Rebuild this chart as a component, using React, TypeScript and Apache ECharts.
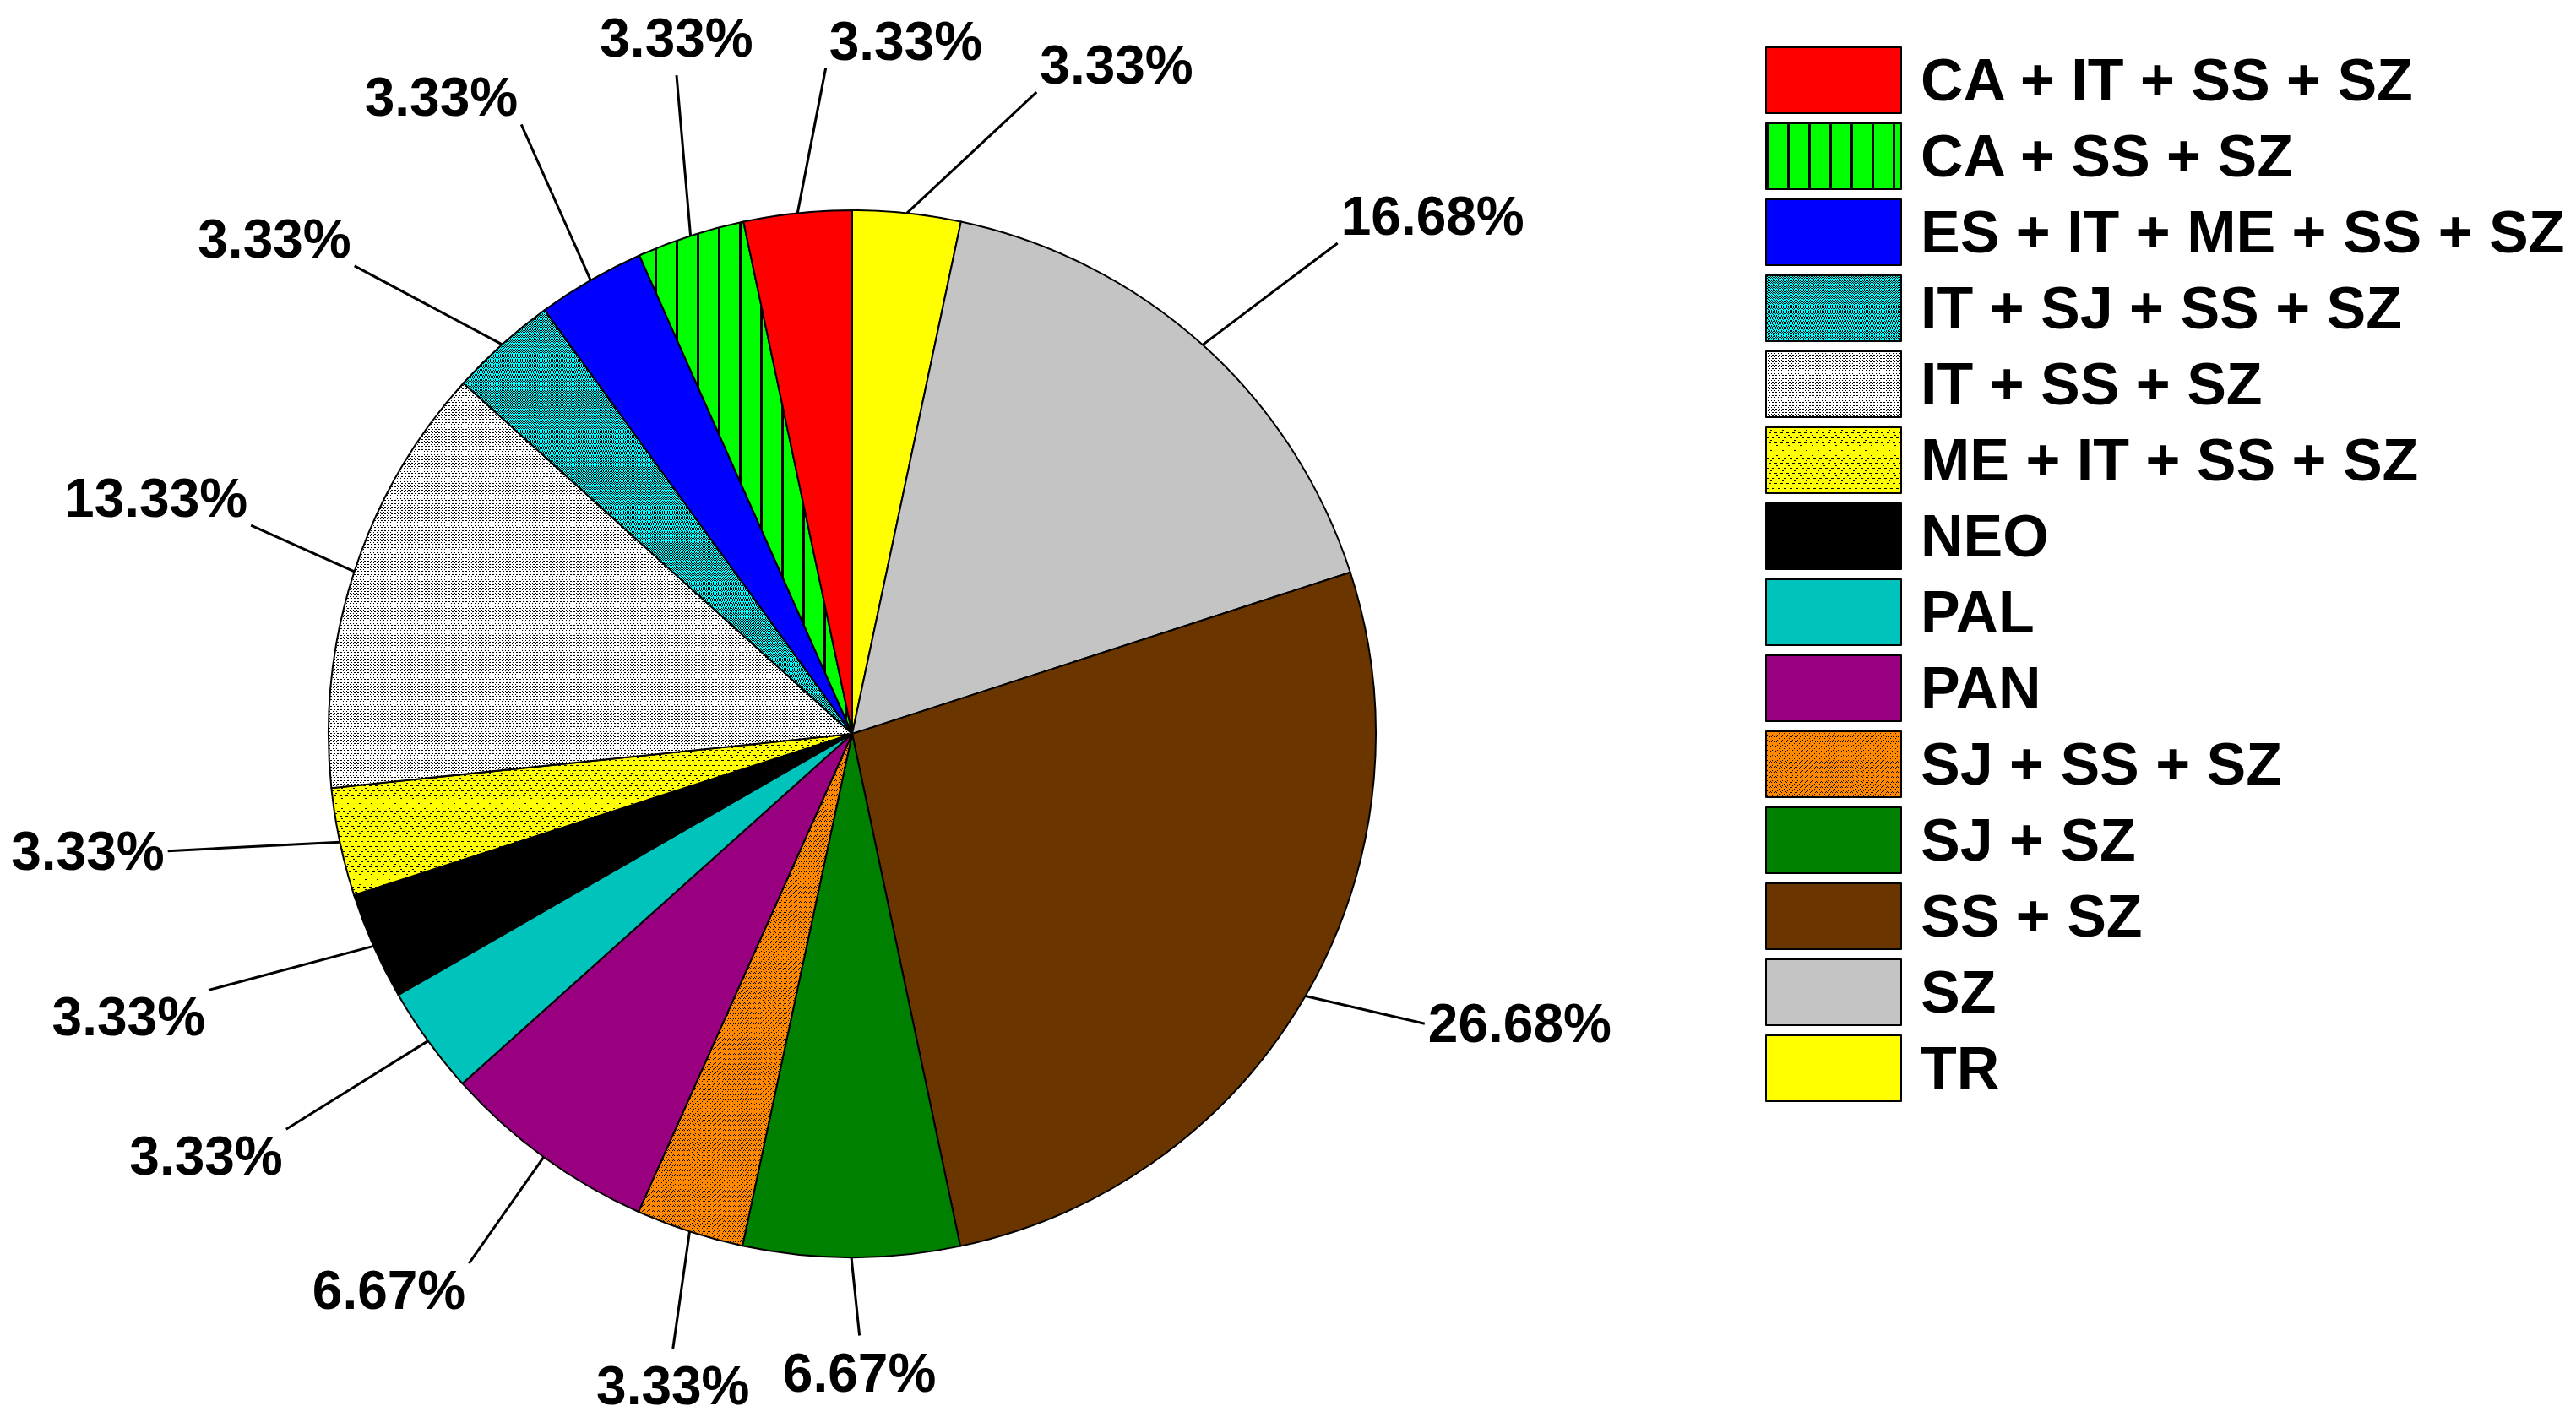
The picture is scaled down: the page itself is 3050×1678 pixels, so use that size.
import React, { useEffect, useRef } from "react";
import * as echarts from "echarts";

const categories = [
  "TR",
  "SZ",
  "SS + SZ",
  "SJ + SZ",
  "SJ + SS + SZ",
  "PAN",
  "PAL",
  "NEO",
  "ME + IT + SS + SZ",
  "IT + SS + SZ",
  "IT + SJ + SS + SZ",
  "ES + IT + ME + SS + SZ",
  "CA + SS + SZ",
  "CA + IT + SS + SZ",
];
const percents = [3.33, 16.68, 26.68, 6.67, 3.33, 6.67, 3.33, 3.33, 3.33, 13.33, 3.33, 3.33, 3.33, 3.33];
const legendOrder = [
  "CA + IT + SS + SZ",
  "CA + SS + SZ",
  "ES + IT + ME + SS + SZ",
  "IT + SJ + SS + SZ",
  "IT + SS + SZ",
  "ME + IT + SS + SZ",
  "NEO",
  "PAL",
  "PAN",
  "SJ + SS + SZ",
  "SJ + SZ",
  "SS + SZ",
  "SZ",
  "TR",
];

// layout tweaks for the leader lines (degrees turned away from the slice middle, and line length in px)
const labelAngleNudge = [41, 11, -17, -6, -10, -1, 4, 9, 9, 6, -20, 6, 13, 17];
const labelLineLength = [210, 200, 145, 93, 140, 154, 198, 202, 204, 134, 198, 202, 191, 175];

const CENTER = [1009, 869];
const RADIUS = 620;

function makePattern(kind: string): HTMLCanvasElement {
  const c = document.createElement("canvas");
  const ctx = c.getContext("2d")!;
  if (kind === "vstripes") {
    c.width = 25; c.height = 25;
    ctx.fillStyle = "#00ff00"; ctx.fillRect(0, 0, 25, 25);
    ctx.fillStyle = "#000"; ctx.fillRect(0, 0, 3, 25);
  } else if (kind === "cyanweave") {
    c.width = 6; c.height = 6;
    ctx.fillStyle = "#00ffff"; ctx.fillRect(0, 0, 6, 6);
    ctx.fillStyle = "#000";
    const pts = [[0,0],[2,0],[4,0],[1,1],[3,1],[5,1],[0,2],[4,2],[1,3],[3,3],[5,3],[2,4],[0,5],[4,5],[2,2]];
    pts.forEach(([x, y]) => ctx.fillRect(x, y, 1, 1));
  } else if (kind === "dots") {
    c.width = 4; c.height = 4;
    ctx.fillStyle = "#ffffff"; ctx.fillRect(0, 0, 4, 4);
    ctx.fillStyle = "#000";
    ctx.fillRect(0, 0, 1, 1); ctx.fillRect(2, 2, 1, 1); ctx.fillRect(3, 0, 1, 1);
  } else if (kind === "hdash") {
    c.width = 14; c.height = 12;
    ctx.fillStyle = "#ffff00"; ctx.fillRect(0, 0, 14, 12);
    ctx.fillStyle = "#000";
    ctx.fillRect(0, 0, 3, 1); ctx.fillRect(7, 0, 3, 1);
    ctx.fillRect(3, 6, 3, 1); ctx.fillRect(10, 6, 3, 1);
    ctx.fillRect(5, 3, 2, 1); ctx.fillRect(12, 9, 2, 1);
  } else if (kind === "orangedots") {
    c.width = 6; c.height = 6;
    ctx.fillStyle = "#ff8800"; ctx.fillRect(0, 0, 6, 6);
    ctx.fillStyle = "#000";
    const pts = [[0,0],[3,2],[1,4],[5,5],[4,0]];
    pts.forEach(([x, y]) => ctx.fillRect(x, y, 1, 1));
  }
  return c;
}

const fills: Record<string, any> = {
  "TR": "#ffff00",
  "SZ": "#c4c4c4",
  "SS + SZ": "#6b3500",
  "SJ + SZ": "#008000",
  "SJ + SS + SZ": { kind: "orangedots" },
  "PAN": "#990080",
  "PAL": "#00c4bc",
  "NEO": "#000000",
  "ME + IT + SS + SZ": { kind: "hdash" },
  "IT + SS + SZ": { kind: "dots" },
  "IT + SJ + SS + SZ": { kind: "cyanweave" },
  "ES + IT + ME + SS + SZ": "#0000ff",
  "CA + SS + SZ": { kind: "vstripes" },
  "CA + IT + SS + SZ": "#ff0000",
};

const FONT = "'Liberation Sans', Arial, Helvetica, sans-serif";

export default function App() {
  const ref = useRef<HTMLDivElement>(null);
  useEffect(() => {
    document.body.style.margin = "0";
    const chart = echarts.init(ref.current!, null, { renderer: "svg" });
    const data = categories.map((name, i) => {
      const f = fills[name];
      const color = typeof f === "string" ? f : { image: makePattern(f.kind), repeat: "repeat" };
      return { name, value: percents[i], itemStyle: { color } };
    });
    const total = percents.reduce((a, b) => a + b, 0);
    const mids: number[] = [];
    let acc = 0;
    percents.forEach((v) => {
      mids.push(((acc + v / 2) / total) * 360);
      acc += v;
    });

    chart.setOption({
      animation: false,
      backgroundColor: "#ffffff",
      legend: {
        orient: "vertical",
        left: 2085,
        top: 50,
        itemWidth: 160,
        itemHeight: 78,
        itemGap: 10,
        icon: "rect",
        data: legendOrder,
        selectedMode: false,
        textStyle: {
          fontSize: 70,
          fontWeight: "bold",
          color: "#000",
          fontFamily: FONT,
          padding: [0, 0, 0, 18],
        },
      },
      series: [
        {
          type: "pie",
          center: CENTER,
          radius: RADIUS,
          startAngle: 90,
          clockwise: true,
          avoidLabelOverlap: false,
          itemStyle: { borderColor: "#000", borderWidth: 2 },
          label: {
            show: true,
            position: "outside",
            formatter: (p: any) => p.value.toFixed(2) + "%",
            fontSize: 64,
            fontWeight: "bold",
            color: "#000",
            fontFamily: FONT,
          },
          labelLine: {
            show: true,
            length: 100,
            length2: 0,
            lineStyle: { color: "#000", width: 3 },
          },
          labelLayout: (params: any) => {
            const i = params.dataIndex;
            const th = (mids[i] * Math.PI) / 180;
            const mx = CENTER[0] + RADIUS * Math.sin(th);
            const my = CENTER[1] - RADIUS * Math.cos(th);
            const ph = ((mids[i] + labelAngleNudge[i]) * Math.PI) / 180;
            const sx = Math.sin(ph);
            const sy = -Math.cos(ph);
            const L = labelLineLength[i];
            const ax = mx + L * sx;
            const ay = my + L * sy;
            const w = params.labelRect.width;
            const halfH = 24;
            const hx = Math.abs(sx) < 0.15 ? 0 : Math.sign(sx);
            const vy = Math.abs(sy) < 0.24 ? 0 : Math.sign(sy);
            const gy = hx === 0 ? 20 : 8;
            return {
              x: ax + hx * (w / 2 + 4),
              y: ay + vy * (halfH + gy),
              align: "center",
              verticalAlign: "middle",
              labelLinePoints: [
                [mx, my],
                [ax, ay],
                [ax, ay],
              ],
            };
          },
          emphasis: { disabled: true },
          data,
        },
      ],
    });
    return () => chart.dispose();
  }, []);
  return <div ref={ref} style={{ width: 3050, height: 1678 }} />;
}
